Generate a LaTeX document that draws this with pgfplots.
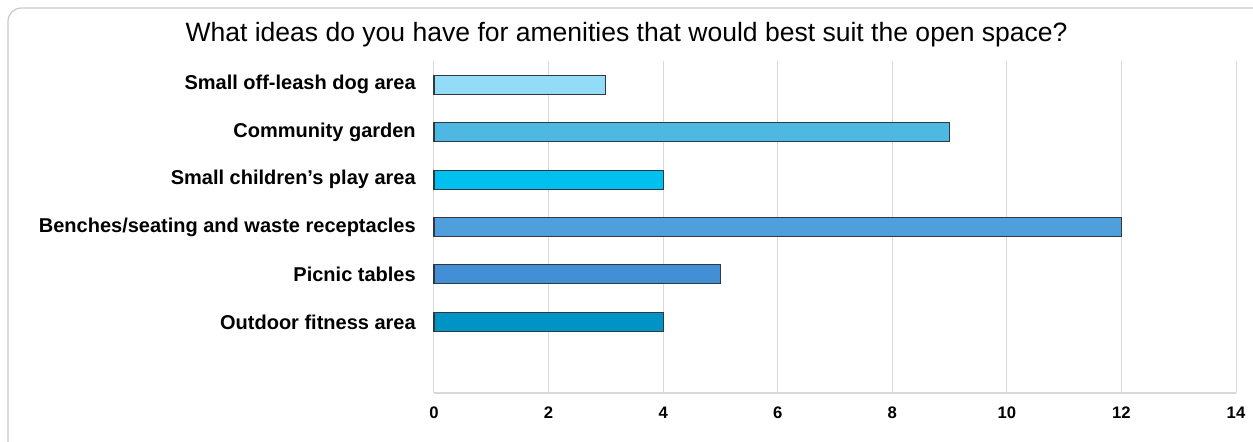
\documentclass[border=0pt]{standalone}
\usepackage{pgfplots}
\pgfplotsset{compat=1.18}
\usepackage{fontspec}
\setmainfont{Liberation Sans}
\definecolor{cA}{HTML}{92DCF7}
\definecolor{cB}{HTML}{4DB9E2}
\definecolor{cC}{HTML}{00C0F0}
\definecolor{cD}{HTML}{4E9FDC}
\definecolor{cE}{HTML}{428FD5}
\definecolor{cF}{HTML}{0094C6}
\definecolor{gridc}{HTML}{D9D9D9}
\definecolor{framec}{HTML}{C8C8C8}
\definecolor{edgec}{HTML}{333840}
\begin{document}
\begin{tikzpicture}
\useasboundingbox (0,0) rectangle (939.75pt,331.5pt);
\draw[framec, line width=0.9pt, rounded corners=10pt] (6pt,-30pt) rectangle (970pt,325.5pt);
\node[anchor=base, inner sep=0pt, font=\fontsize{19.9}{22}\selectfont] at (469.9pt,300pt) {What ideas do you have for amenities that would best suit the open space?};
\begin{axis}[
  at={(325.5pt,36.75pt)}, anchor=south west,
  scale only axis, width=601.5pt, height=249pt,
  xmin=0, xmax=14, ymin=-0.5, ymax=6.5, y dir=reverse,
  xtick={0,2,...,14},
  ytick={0,1,2,3,4,5},
  yticklabels={Small off-leash dog area, Community garden, Small children’s play area, Benches/seating and waste receptacles, Picnic tables, Outdoor fitness area},
  yticklabel style={font=\fontsize{15}{17}\selectfont\bfseries, anchor=east, inner sep=0pt, xshift=-13.5pt},
  xticklabel style={font=\fontsize{12.5}{14}\selectfont\bfseries, anchor=base, inner sep=0pt, yshift=-18.75pt},
  /pgf/number format/assume math mode=true,
  major tick length=0pt,
  xmajorgrids, grid style={gridc, line width=0.75pt},
  axis x line*=bottom, axis y line*=left,
  x axis line style={draw=gridc, line width=0.9pt, -},
  y axis line style={draw=none},
  xbar, bar width=14.25pt,
  clip=false,
]
\addplot[bar shift=0pt, fill=cA, draw=edgec, line width=0.8pt] coordinates {(3,0)};
\addplot[bar shift=0pt, fill=cB, draw=edgec, line width=0.8pt] coordinates {(9,1)};
\addplot[bar shift=0pt, fill=cC, draw=edgec, line width=0.8pt] coordinates {(4,2)};
\addplot[bar shift=0pt, fill=cD, draw=edgec, line width=0.8pt] coordinates {(12,3)};
\addplot[bar shift=0pt, fill=cE, draw=edgec, line width=0.8pt] coordinates {(5,4)};
\addplot[bar shift=0pt, fill=cF, draw=edgec, line width=0.8pt] coordinates {(4,5)};
\end{axis}
\end{tikzpicture}
\end{document}
